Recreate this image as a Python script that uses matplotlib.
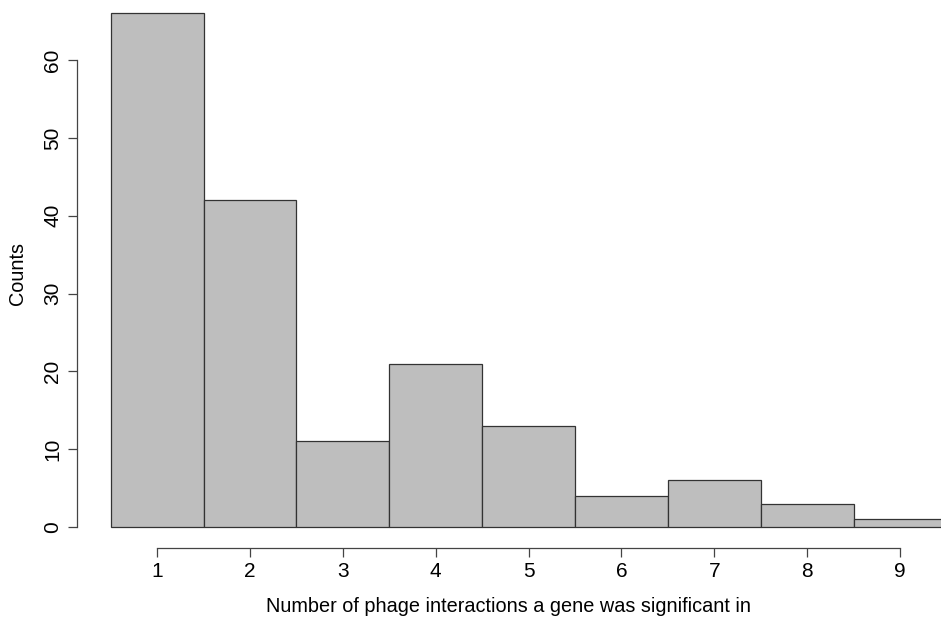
import matplotlib.pyplot as plt

# interaction counts (histogram bins) and gene counts
interactions = [1, 2, 3, 4, 5, 6, 7, 8, 9]
counts = [66, 42, 11, 21, 13, 4, 6, 3, 1]
yticks = [0, 10, 20, 30, 40, 50, 60]

plt.rcParams['font.family'] = ['Liberation Sans', 'DejaVu Sans']

fig = plt.figure(figsize=(9.41, 6.18), dpi=100)
ax = fig.add_axes([77 / 941, (618 - 547.7) / 618, 1 - 77 / 941, 547.7 / 618])

ax.bar(interactions, counts, width=1.0, color='#bebebe', edgecolor='#333333', linewidth=0.9)

ax.set_xlim(0.137, 9.442)
ax.set_ylim(-2.66, 67.71)

# R-style detached axes
for s in ['top', 'right']:
    ax.spines[s].set_visible(False)
ax.spines['left'].set_bounds(0, 60)
ax.spines['bottom'].set_bounds(1, 9)
for s in ['left', 'bottom']:
    ax.spines[s].set_color('#444444')
    ax.spines[s].set_linewidth(0.9)

ax.set_xticks(interactions)
ax.set_yticks(yticks)
ax.tick_params(axis='both', length=6.5, width=0.9, color='#444444', labelsize=15, pad=4)
ax.set_yticklabels(yticks, rotation=90, va='center')

ax.set_xlabel('Number of phage interactions a gene was significant in', fontsize=14.3, labelpad=11)
ax.set_ylabel('Counts', fontsize=14.3, labelpad=12)

fig.savefig('out.png', dpi=100)
